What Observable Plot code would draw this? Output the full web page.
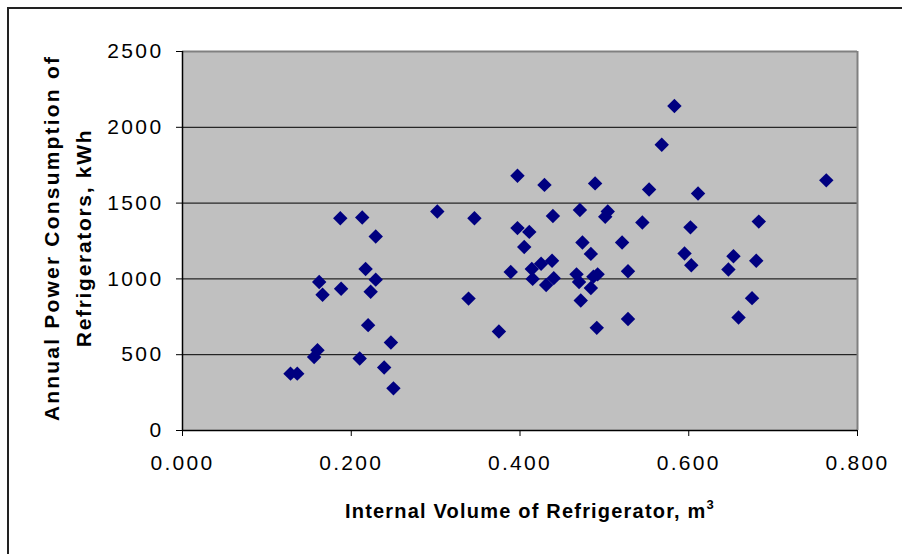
<!DOCTYPE html>
<html>
<head>
<meta charset="utf-8">
<script src="https://cdn.jsdelivr.net/npm/d3@7"></script>
<script src="https://cdn.jsdelivr.net/npm/@observablehq/plot@0.6"></script>
<style>
  html, body { margin: 0; padding: 0; background: white; }
  svg { display: block; }
  g[aria-label="y-axis tick label"] text { letter-spacing: 2.4px; }
  g[aria-label="x-axis tick label"] text { letter-spacing: 2.3px; }
</style>
</head>
<body>
<div id="chart"></div>
<script>
const volume = [
  0.187, 0.213, 0.229, 0.217, 0.229, 0.223, 0.162, 0.166, 0.188, 0.220,
  0.247, 0.210, 0.239, 0.250, 0.160, 0.156, 0.128, 0.136,
  0.302, 0.346, 0.397, 0.429, 0.489, 0.471, 0.439, 0.504, 0.501, 0.397,
  0.411, 0.405, 0.474, 0.484, 0.521, 0.389, 0.414, 0.425, 0.438, 0.415,
  0.440, 0.431, 0.467, 0.470, 0.487, 0.492, 0.484, 0.472, 0.339, 0.375,
  0.491, 0.528, 0.528,
  0.583, 0.568, 0.553, 0.611, 0.763, 0.545, 0.602, 0.683, 0.595, 0.603,
  0.653, 0.647, 0.680, 0.675, 0.659
];
const power = [
  1400, 1405, 1280, 1065, 995, 915, 980, 895, 935, 695,
  580, 475, 415, 278, 530, 485, 375, 375,
  1445, 1400, 1680, 1620, 1630, 1455, 1415, 1445, 1410, 1335,
  1310, 1210, 1240, 1165, 1240, 1045, 1065, 1100, 1120, 1000,
  1005, 960, 1030, 980, 1015, 1030, 940, 858, 870, 653,
  677, 1050, 735,
  2140, 1885, 1590, 1563, 1650, 1372, 1340, 1378, 1168, 1090,
  1150, 1062, 1120, 873, 745
];
const xTicks = [0, 0.2, 0.4, 0.6, 0.8];
const yTicks = [0, 500, 1000, 1500, 2000, 2500];
const gridValues = [500, 1000, 1500, 2000];
const xTitle = "Internal Volume of Refrigerator, m";
const xTitleSup = "3";
const yTitleLines = ["Annual Power Consumption of", "Refrigerators, kWh"];

const data = volume.map((v, i) => ({v, p: power[i]}));

const W = 902, H = 554;
const chart = Plot.plot({
  width: W, height: H,
  marginLeft: 182, marginRight: 45, marginTop: 51, marginBottom: 124,
  x: {domain: [0, 0.8]},
  y: {domain: [0, 2500]},
  style: {fontFamily: "'Liberation Sans', Arial, sans-serif", fontSize: "21px", background: "white", color: "black"},
  marks: [
    Plot.frame({fill: "#c0c0c0", stroke: null}),
    Plot.ruleY(gridValues, {stroke: "black", strokeWidth: 1}),
    Plot.ruleY([2500], {stroke: "#808080", strokeWidth: 2}),
    Plot.ruleX([0.8], {stroke: "#808080", strokeWidth: 2}),
    Plot.ruleX([0], {stroke: "black", strokeWidth: 1.5}),
    Plot.ruleY([0], {stroke: "black", strokeWidth: 1.5}),
    Plot.axisY({ticks: yTicks, tickSize: 6, tickPadding: 13, tickFormat: d => String(d), label: null, fontSize: 21}),
    Plot.axisX({ticks: xTicks, tickSize: 6, tickPadding: 19, tickFormat: d => d.toFixed(3), label: null, fontSize: 21}),
    Plot.dot(data, {x: "v", y: "p", symbol: "diamond2", r: 6.5, fill: "#000080", stroke: "none"})
  ]
});

const svg = d3.select(chart);
// outer frame
svg.append("rect")
  .attr("x", 8).attr("y", 8).attr("width", W + 10).attr("height", H + 10)
  .attr("fill", "none").attr("stroke", "#222").attr("stroke-width", 2);

// x title
const xt = svg.append("text")
  .attr("x", 530).attr("y", 518)
  .attr("text-anchor", "middle")
  .attr("font-family", "'Liberation Sans', Arial, sans-serif")
  .attr("font-weight", "bold").attr("font-size", 20)
  .style("letter-spacing", "1.2px")
  .attr("fill", "black");
xt.append("tspan").text(xTitle);
xt.append("tspan").attr("dy", -9).attr("font-size", 13).text(xTitleSup);

// y title (two lines)
const yt = svg.append("g").attr("transform", "translate(0,238) rotate(-90)");
yTitleLines.forEach((line, i) => {
  yt.append("text")
    .attr("x", 0).attr("y", 59 + i * 32)
    .attr("text-anchor", "middle")
    .attr("font-family", "'Liberation Sans', Arial, sans-serif")
    .attr("font-weight", "bold").attr("font-size", 21)
    .style("letter-spacing", i === 0 ? "2.2px" : "1.7px")
    .attr("fill", "black")
    .text(line);
});

document.getElementById("chart").appendChild(chart);
</script>
</body>
</html>
